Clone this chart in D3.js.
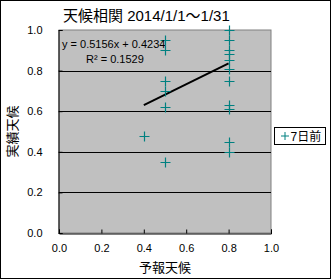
<!DOCTYPE html>
<html>
<head>
<meta charset="utf-8">
<script src="https://cdn.jsdelivr.net/npm/d3@7"></script>
<style>
  body { margin: 0; background: #fff; }
  text { font-family: "Liberation Sans", "Noto Sans CJK JP", sans-serif; fill: #000; }
</style>
</head>
<body>
<svg id="chart" width="331" height="279"></svg>
<script>
// forecast (予報) vs actual (実績) for each day
const forecast = [0.4, 0.5, 0.5, 0.5, 0.5, 0.5, 0.5,
  0.8, 0.8, 0.8, 0.8, 0.8, 0.8, 0.8, 0.8, 0.8, 0.8, 0.8];
const actual = [0.48, 0.95, 0.9, 0.75, 0.7, 0.62, 0.35,
  1.0, 0.95, 0.9, 0.88, 0.85, 0.81, 0.75, 0.63, 0.61, 0.45, 0.4];
const ticks = [0, 0.2, 0.4, 0.6, 0.8, 1.0];
const trend = { slope: 0.5156, intercept: 0.4234, r2: 0.1529 };
const seriesName = '7日前';

const svg = d3.select('#chart');
const x = d3.scaleLinear().domain([0, 1]).range([59, 271]);
const y = d3.scaleLinear().domain([0, 1]).range([233, 30]);

// outer frame
svg.append('rect')
  .attr('x', 0.5).attr('y', 0.5)
  .attr('width', 330).attr('height', 278)
  .attr('fill', '#fff').attr('stroke', '#000');

// plot area
svg.append('rect')
  .attr('x', x(0)).attr('y', y(1))
  .attr('width', x(1) - x(0)).attr('height', y(0) - y(1))
  .attr('fill', '#c0c0c0').attr('stroke', '#808080');

// gridlines
svg.append('g')
  .selectAll('line')
  .data(ticks.slice(1, -1))
  .join('line')
    .attr('x1', x(0)).attr('x2', x(1))
    .attr('y1', d => Math.round(y(d)) + 0.5)
    .attr('y2', d => Math.round(y(d)) + 0.5)
    .attr('stroke', '#000');

const fmt = d3.format('.1f');

svg.append('g')
  .attr('transform', `translate(0,${y(0) + 0.5})`)
  .call(d3.axisBottom(x).tickValues(ticks).tickFormat(fmt).tickSize(-4).tickPadding(11))
  .call(g => g.select('.domain').attr('stroke', '#000'))
  .call(g => g.selectAll('text').style('font-size', '11px').attr('fill', '#000'));

svg.append('g')
  .attr('transform', `translate(${x(0) - 0.5},0)`)
  .call(d3.axisLeft(y).tickValues(ticks).tickFormat(fmt).tickSize(-4).tickPadding(16))
  .call(g => g.select('.domain').attr('stroke', '#000'))
  .call(g => g.selectAll('text').style('font-size', '11px').attr('fill', '#000'));

// trendline across the data's x range
const [x0, x1] = d3.extent(forecast);
svg.append('line')
  .attr('x1', x(x0)).attr('y1', y(trend.slope * x0 + trend.intercept))
  .attr('x2', x(x1)).attr('y2', y(trend.slope * x1 + trend.intercept))
  .attr('stroke', '#000')
  .attr('stroke-width', 2);

// plus markers
const plus = 'M-5,0H5M0,-5V5';
svg.append('g')
  .selectAll('path')
  .data(forecast.map((f, i) => [f, actual[i]]))
  .join('path')
    .attr('transform', d => `translate(${Math.round(x(d[0])) + 0.5},${Math.round(y(d[1])) + 0.5})`)
    .attr('d', plus)
    .attr('stroke', '#008080')
    .attr('stroke-width', 1.2)
    .attr('fill', 'none');

// equation label
svg.append('text')
  .attr('x', 62).attr('y', 48)
  .style('font-size', '11px')
  .text(`y = ${trend.slope}x + ${trend.intercept}`);
svg.append('text')
  .attr('x', 86).attr('y', 63)
  .style('font-size', '11px')
  .text(`R² = ${trend.r2}`);

// title
svg.append('text')
  .attr('x', 63).attr('y', 21)
  .style('font-size', '15px')
  .text('天候相関 2014/1/1～1/31');

// axis titles
svg.append('text')
  .attr('x', x(0.5)).attr('y', 272)
  .attr('text-anchor', 'middle')
  .style('font-size', '13px')
  .text('予報天候');
svg.append('text')
  .attr('transform', `translate(17,${y(0.5)}) rotate(-90)`)
  .attr('text-anchor', 'middle')
  .style('font-size', '13px')
  .text('実績天候');

// legend
const legend = svg.append('g').attr('transform', 'translate(274.5,127.5)');
legend.append('rect')
  .attr('width', 51).attr('height', 17)
  .attr('fill', '#fff').attr('stroke', '#000');
legend.append('path')
  .attr('transform', 'translate(10.5,8.5)')
  .attr('d', 'M-4,0H4M0,-4V4')
  .attr('stroke', '#008080');
legend.append('text')
  .attr('x', 16).attr('y', 13)
  .style('font-size', '12px')
  .text(seriesName);
</script>
</body>
</html>
